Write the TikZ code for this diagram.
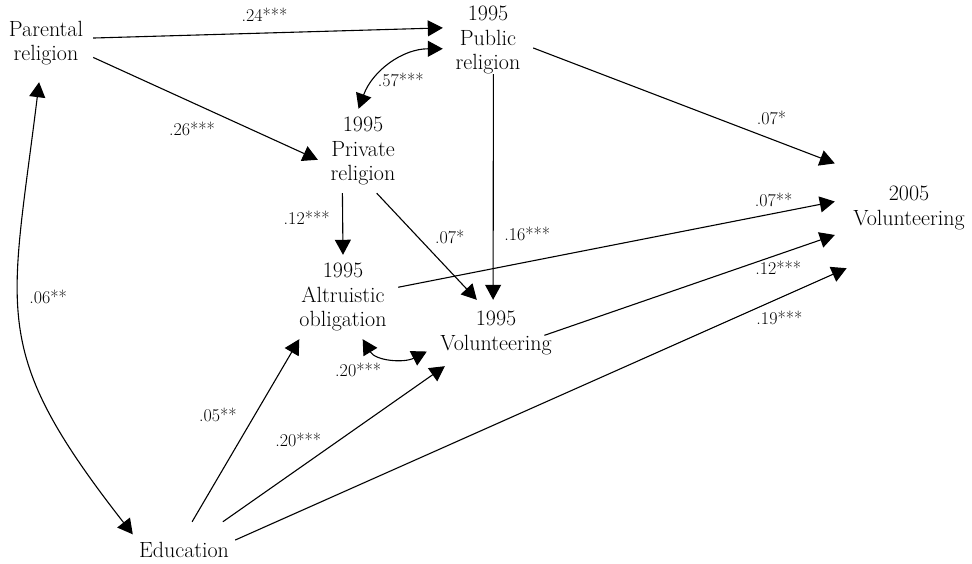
\documentclass[tikz,border=0pt]{standalone}
\usetikzlibrary{arrows.meta}
\tikzset{
  var/.style={align=center, inner sep=0pt, font=\fontsize{22}{24.5}\selectfont},
  coef/.style={font=\fontsize{18}{20}\selectfont, inner sep=0pt},
  eff/.style={-{Triangle[length=15pt,width=16pt]}, line width=1.1pt},
  cov/.style={{Triangle[length=15pt,width=16pt]}-{Triangle[length=15pt,width=16pt]}, line width=1.1pt}
}
\begin{document}
\begin{tikzpicture}[x=1pt,y=1pt]
  \useasboundingbox (0,0) rectangle (972,564);
  \node[var, minimum width=94pt, minimum height=78pt] (par) at (46,521) {Parental\\religion};
  \node[var, minimum width=90pt, minimum height=66pt] (pub) at (488,524) {1995\\Public\\religion};
  \node[var, minimum width=90pt, minimum height=84pt] (pri) at (363,413) {1995\\Private\\religion};
  \node[var, minimum width=110pt, minimum height=84pt] (alt) at (343,267) {1995\\Altruistic\\obligation};
  \node[var, minimum width=138pt, minimum height=66pt] (vol95) at (496,231) {1995\\Volunteering};
  \node[var, minimum width=148pt, minimum height=120pt] (vol05) at (909,356) {2005\\Volunteering};
  \node[var, minimum width=102pt, minimum height=56pt] (edu) at (184,14) {Education};
  % paths from parental religion
  \draw[eff] (par.6) -- node[coef, pos=.49, yshift=18pt] {.24***} (pub.165);
  \draw[eff] (par.-17) -- node[coef, pos=.44, yshift=-26pt] {.26***} (pri.191);
  \draw[cov] (pri.96) to[out=70,in=180] node[coef, pos=.5, xshift=10pt, yshift=-15pt] {.57***} (pub.191);
  % religion to volunteering
  \draw[eff] (pub.-10) -- node[coef, pos=.79, yshift=21pt] {.07*} (vol05.149);
  \draw[eff] (pub.-81) -- node[coef, pos=.71, xshift=34pt] {.16***} (vol95.95);
  \draw[eff] (pri.-116) -- node[coef, pos=.4, xshift=-36pt] {.12***} (alt.90);
  \draw[eff] (pri.-72) -- node[coef, pos=.41, xshift=32pt] {.07*} (vol95.120);
  \draw[eff] (alt.10) -- node[coef, pos=.86, yshift=14pt] {.07**} (vol05.175);
  \draw[eff, shorten <=-22pt] (vol95.4) -- node[coef, pos=.79, yshift=-13pt] {.12***} (vol05.200);
  \draw[cov] (alt.-65) to[out=-59,in=207] node[coef, pos=.5, xshift=-33pt, yshift=-12pt] {.20***} (vol95.-165);
  % education
  \draw[eff] (edu.11) -- node[coef, pos=.89, yshift=-20pt] {.19***} (vol05.-136);
  \draw[eff] (edu.36) -- node[coef, pos=.34, yshift=29pt] {.20***} (vol95.-147);
  \draw[eff] (edu.74) -- node[coef, pos=.585, xshift=-37pt] {.05**} (alt.-136);
  \draw[cov] (par.-100) to[out=-97,in=128,looseness=1.3] node[coef, pos=.4, xshift=30pt, yshift=-8pt] {.06**} (edu.163);
\end{tikzpicture}
\end{document}
